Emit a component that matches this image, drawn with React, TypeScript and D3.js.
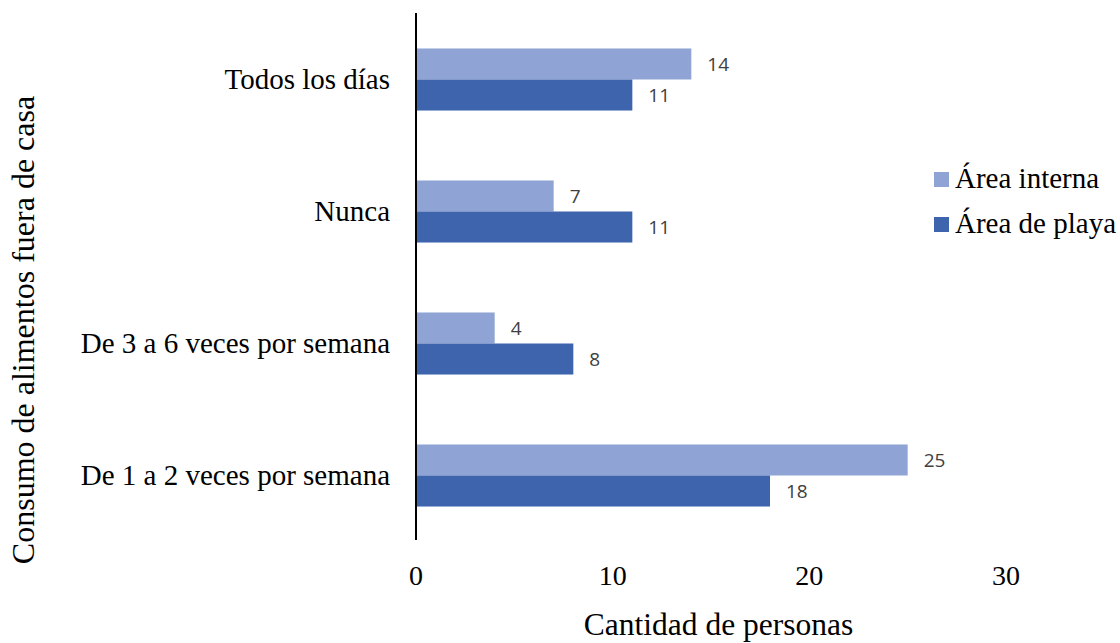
import React from "react";
import * as d3 from "d3";

const categories = [
  "Todos los días",
  "Nunca",
  "De 3 a 6 veces por semana",
  "De 1 a 2 veces por semana",
];
const seriesNames = ["Área interna", "Área de playa"];
const areaInterna = [14, 7, 4, 25];
const areaPlaya = [11, 11, 8, 18];
const xTicks = [0, 10, 20, 30];
const colors = ["#8FA4D4", "#3D64AD"];

export default function App() {
  const W = 1120;
  const H = 643;
  const x = d3.scaleLinear().domain([0, 30]).range([416, 1006]);
  const y = d3
    .scaleBand<string>()
    .domain(categories)
    .range([13.5, 541.5])
    .paddingInner(0.53)
    .paddingOuter(0.265);
  const inner = d3
    .scaleBand<string>()
    .domain(seriesNames)
    .range([0, y.bandwidth()]);
  const series = [areaInterna, areaPlaya];
  const serif = "'Liberation Serif', 'Times New Roman', serif";
  const sans = "'Open Sans', 'Liberation Sans', sans-serif";

  return (
    <svg
      width={W}
      height={H}
      style={{ position: "absolute", left: 0, top: 0, background: "#fff" }}
    >
      {categories.map((c, i) =>
        seriesNames.map((s, k) => {
          const v = series[k][i];
          const by = (y(c) ?? 0) + (inner(s) ?? 0);
          const bh = inner.bandwidth();
          return (
            <g key={c + s}>
              <rect
                x={x(0)}
                y={by}
                width={x(v) - x(0)}
                height={bh}
                fill={colors[k]}
              />
              <text
                x={x(v) + 16}
                y={by + bh / 2}
                dy="0.36em"
                fontFamily={sans}
                fontSize={19}
                fill="#404040"
              >
                {v}
              </text>
            </g>
          );
        })
      )}
      <line x1={x(0)} x2={x(0)} y1={13} y2={540} stroke="#000" strokeWidth={2} />
      {categories.map((c) => (
        <text
          key={c}
          x={390}
          y={(y(c) ?? 0) + y.bandwidth() / 2 + 9.5}
          textAnchor="end"
          fontFamily={serif}
          fontSize={29}
          fill="#000"
        >
          {c}
        </text>
      ))}
      {xTicks.map((t) => (
        <text
          key={t}
          x={x(t)}
          y={585}
          textAnchor="middle"
          fontFamily={serif}
          fontSize={28}
          fill="#000"
        >
          {t}
        </text>
      ))}
      <text
        x={718.5}
        y={635}
        textAnchor="middle"
        fontFamily={serif}
        fontSize={31.5}
        fill="#000"
      >
        Cantidad de personas
      </text>
      <text
        transform="translate(34,330) rotate(-90)"
        textAnchor="middle"
        fontFamily={serif}
        fontSize={32}
        fill="#000"
      >
        Consumo de alimentos fuera de casa
      </text>
      {seriesNames.map((s, k) => (
        <g key={s} transform={`translate(934, ${172 + k * 45})`}>
          <rect x={0} y={0} width={15} height={15} fill={colors[k]} />
          <text x={21} y={16} fontFamily={serif} fontSize={29} fill="#000">
            {s}
          </text>
        </g>
      ))}
    </svg>
  );
}
